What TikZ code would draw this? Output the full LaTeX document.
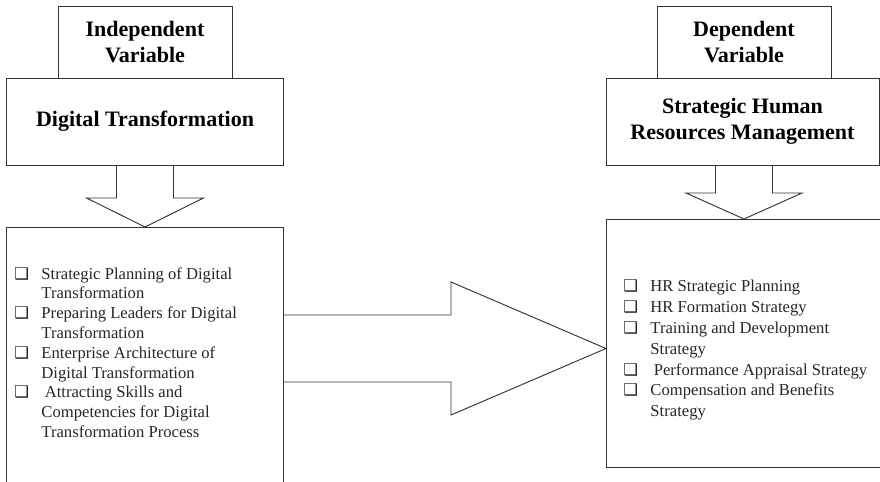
\documentclass[tikz,border=0pt]{standalone}
\usepackage{fontspec}
\setmainfont{Liberation Serif}
\newfontfamily\symfont{DejaVu Sans}
\usepackage{tikz}
\usetikzlibrary{positioning, calc}

\newcommand{\bul}{\makebox[0.81cm][l]{\symfont\fontsize{14}{14}\selectfont ❑}}
\newcommand{\ind}{\hspace*{0.81cm}}

\begin{document}
\begin{tikzpicture}[
        x=0.03cm, y=-0.03cm,
        line width=0.8pt,
        titlebox/.style={rectangle, draw=black!80, font=\fontsize{18.8}{22.5}\selectfont\bfseries, align=center, inner sep=0pt, outer sep=0pt},
        listbox/.style={rectangle, draw=black!80, outer sep=0pt},
        items/.style={align=left, inner sep=0pt, text=black!85},
        blockarrow/.style={draw=black!80, line join=miter}
    ]
        \useasboundingbox (0,0) rectangle (880,481);
        \clip (0,0) rectangle (880,481);

        % Nodes
        \node (indep) [titlebox, minimum width=5.22cm, minimum height=2.16cm] at (145,42) {Independent\\Variable};
        \node (digital) [titlebox, minimum width=8.31cm, minimum height=2.61cm, below=0pt of indep] {Digital Transformation};
        \node (dtbox) [listbox, minimum width=8.31cm, minimum height=8.4cm, below=1.86cm of digital] {};
        \node (dtitems) [items, anchor=west, font=\fontsize{14.2}{16.9}\selectfont] at (14,352.5) {%
            \bul Strategic Planning of Digital\\
            \ind Transformation\\
            \bul Preparing Leaders for Digital\\
            \ind Transformation\\
            \bul Enterprise Architecture of\\
            \ind Digital Transformation\\
            \bul\hspace{0.1cm}Attracting Skills and\\
            \ind Competencies for Digital\\
            \ind Transformation Process};

        \node (dep) [titlebox, minimum width=5.22cm, minimum height=2.16cm] at (744,42) {Dependent\\Variable};
        \node (shrm) [titlebox, minimum width=8.19cm, minimum height=2.61cm] at (742.5,121.5) {Strategic Human\\Resources Management};
        \node (shrmbox) [listbox, minimum width=8.52cm, minimum height=7.44cm, anchor=north west] at (606,219) {};
        \node (shrmitems) [items, anchor=west, font=\fontsize{14.2}{17.8}\selectfont] at (623,350) {%
            \bul HR Strategic Planning\\
            \bul HR Formation Strategy\\
            \bul Training and Development\\
            \ind Strategy\\
            \bul\hspace{0.1cm}Performance Appraisal Strategy\\
            \bul Compensation and Benefits\\
            \ind Strategy};

        % Arrows
        \draw [blockarrow] ($(digital.south)+(-28.5,0)$) -- ++(0,33) -- ++(-30,0) -- (dtbox.north)
            -- ($(digital.south)+(58.5,33)$) -- ++(-30,0) -- ($(digital.south)+(28.5,0)$);

        \coordinate (shrmtop) at (dep.south |- shrm.south);
        \coordinate (shrmtip) at (shrmbox.north -| dep.south);
        \draw [blockarrow] ($(shrmtop)+(-28.5,0)$) -- ++(0,28) -- ++(-29.5,0) -- (shrmtip)
            -- ($(shrmtop)+(58,28)$) -- ++(-29.5,0) -- ($(shrmtop)+(28.5,0)$);

        \draw [blockarrow] (dtbox.east |- 0,315) -- (451,315) -- (451,282) -- (shrmbox.west |- 0,348.5)
            -- (451,415) -- (451,382) -- (dtbox.east |- 0,382);
    \end{tikzpicture}
\end{document}
